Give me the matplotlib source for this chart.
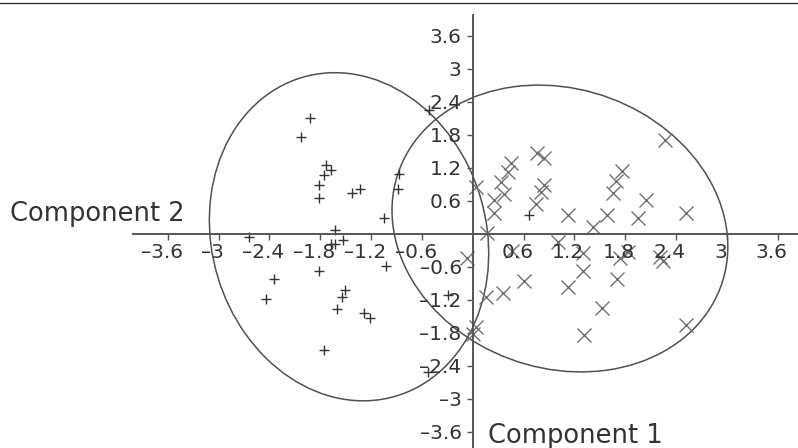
import numpy as np
import matplotlib
matplotlib.use("Agg")
import matplotlib.pyplot as plt
from matplotlib.patches import Ellipse
from matplotlib.lines import Line2D

plt.rcParams['font.family'] = ['DejaVu Sans']

# group 1 (+)
plus_x = [-1.92, -2.03, -1.73, -1.67, -1.76, -1.82, -1.82, -1.43, -1.33, -0.87,
          -0.88, -1.05, -1.63, -2.64, -1.67, -1.62, -1.53, -1.02, -1.82, -2.34,
          -2.44, -1.51, -1.54, -1.60, -1.28, -1.21, -1.76, -0.53, -0.29, 0.67, -0.52]
plus_y = [2.11, 1.77, 1.25, 1.17, 1.07, 0.90, 0.66, 0.75, 0.82, 1.09,
          0.82, 0.30, 0.07, -0.05, -0.18, -0.18, -0.10, -0.58, -0.67, -0.82,
          -1.19, -1.02, -1.14, -1.36, -1.43, -1.53, -2.11, -2.50, -1.11, 0.35, 2.25]

# group 2 (x)
cross_x = [2.27, 0.76, 0.84, 0.45, 0.42, 0.34, 0.37, 0.25, 0.25, 0.04,
           0.84, 0.81, 0.75, 1.76, 1.69, 1.66, 2.05, 1.13, 1.59, 1.95,
           2.52, 1.42, 0.17, 1.01, 0.46, 1.30, 1.74, 1.83, 2.21, 2.25,
           -0.07, 1.30, 1.70, 0.61, 1.13, 0.36, 0.16, 1.53, 2.52, 1.32,
           0.04, 0.00]
cross_y = [1.71, 1.48, 1.39, 1.29, 1.13, 0.95, 0.72, 0.62, 0.38, 0.85,
           0.90, 0.77, 0.54, 1.14, 0.97, 0.75, 0.62, 0.35, 0.35, 0.29,
           0.38, 0.12, 0.02, -0.15, -0.30, -0.35, -0.44, -0.32, -0.41, -0.49,
           -0.44, -0.68, -0.82, -0.86, -0.96, -1.08, -1.14, -1.34, -1.65, -1.83,
           -1.69, -1.82]

# group ellipses (centre and quadratic form)
ell_cx = [-1.46, 1.03]
ell_cy = [-0.05, 0.10]
ell_sxx = [2.72, 3.93]
ell_syy = [8.90, 6.80]
ell_sxy = [-0.50, -0.65]

xticks = [-3.6, -3, -2.4, -1.8, -1.2, -0.6, 0.6, 1.2, 1.8, 2.4, 3, 3.6]
xtick_labels = ['–3.6', '–3', '–2.4', '–1.8', '–1.2', '–0.6',
                '0.6', '1.2', '1.8', '2.4', '3', '3.6']
yticks = [-3.6, -3, -2.4, -1.8, -1.2, -0.6, 0.6, 1.2, 1.8, 2.4, 3, 3.6]
ytick_labels = ['–3.6', '–3', '–2.4', '–1.8', '–1.2', '–0.6',
                '0.6', '1.2', '1.8', '2.4', '3', '3.6']

W, H = 798, 448
fig = plt.figure(figsize=(W / 100, H / 100), dpi=100)
ax = fig.add_axes([0, 0, 1, 1])
ax.set_facecolor('white')
ax.set_xlim(-5.581, 3.841)
ax.set_ylim(-3.891, 4.255)

axis_col = '#555555'
for s in ['top', 'right']:
    ax.spines[s].set_visible(False)
ax.spines['bottom'].set_position(('data', 0))
ax.spines['left'].set_position(('data', 0))
ax.spines['bottom'].set_bounds(-4.01, 3.841)
ax.spines['left'].set_bounds(-3.891, 3.99)
for s in ['bottom', 'left']:
    ax.spines[s].set_color(axis_col)
    ax.spines[s].set_linewidth(1.4)
ax.set_xticks(xticks)
ax.set_yticks(yticks)
ax.tick_params(axis='both', direction='out', length=4, width=1.0,
               color=axis_col, labelbottom=False, labelleft=False)

txt_col = '#333333'
for v, s in zip(xticks, xtick_labels):
    ax.annotate(s, xy=(v, 0), xytext=(-6, -24.3), textcoords='offset pixels',
                ha='center', va='baseline', fontsize=14.5, color=txt_col)
for v, s in zip(yticks, ytick_labels):
    ax.annotate(s, xy=(0, v), xytext=(-11, -7.3), textcoords='offset pixels',
                ha='right', va='baseline', fontsize=14.5, color=txt_col)


def draw_ellipse(cx, cy, sxx, syy, sxy, **kw):
    m = np.array([[sxx, sxy], [sxy, syy]])
    vals, vecs = np.linalg.eigh(m)
    order = vals.argsort()[::-1]
    vals, vecs = vals[order], vecs[:, order]
    angle = np.degrees(np.arctan2(vecs[1, 0], vecs[0, 0]))
    w, h = 2 * np.sqrt(vals)
    ax.add_patch(Ellipse((cx, cy), w, h, angle=angle, fill=False, **kw))


for i in range(len(ell_cx)):
    draw_ellipse(ell_cx[i], ell_cy[i], ell_sxx[i], ell_syy[i], ell_sxy[i],
                 edgecolor='#505050', lw=1.1)

ax.plot(plus_x, plus_y, ls='none', marker='+', ms=7.7, mew=1.0, color='#333333')
ax.plot(cross_x, cross_y, ls='none', marker='x', ms=9.6, mew=1.0, color='#707070')

fig.add_artist(Line2D([0, 1], [1 - 2.7 / H] * 2, transform=fig.transFigure,
                      color='#333333', lw=1.0))

fig.text(10 / W, (H - 220.7) / H, 'Component 2', fontsize=18.5, color=txt_col,
         va='baseline', ha='left')
fig.text(488 / W, (H - 443) / H, 'Component 1', fontsize=18.5, color=txt_col,
         va='baseline', ha='left')

fig.savefig('out.png', dpi=100, facecolor='white')
